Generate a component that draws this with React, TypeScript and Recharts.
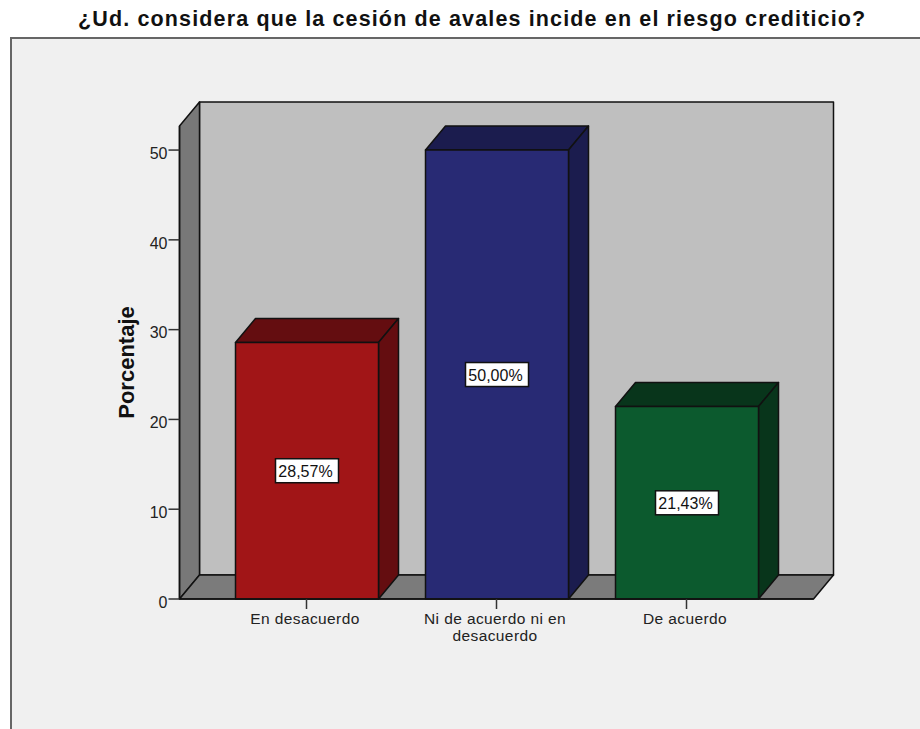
import { BarChart, Bar, XAxis, YAxis, LabelList, ReferenceArea, Text } from 'recharts';

const categories = ['En desacuerdo', 'Ni de acuerdo ni en desacuerdo', 'De acuerdo'];
const percentages = [28.57, 50, 21.43];
const yTicks = [0, 10, 20, 30, 40, 50];
const frontColors = ['#a11517', '#282a74', '#0c5a2e'];
const darkColors = ['#640d10', '#1b1c4e', '#08351b'];

const data = categories.map((name, i) => ({ name, value: percentages[i] }));

const FONT = '"Liberation Sans", Arial, sans-serif';
const EDGE = '#111';
// Oblique offset of the fake 3D extrusion
const DEPTH_X = 20;
const DEPTH_Y = 24;
// Gap between the plot edges and the first/last category band
const BAND_PAD = 32;

const fmtPct = (v: number) => `${v.toFixed(2).replace('.', ',')}%`;

function Backdrop({ x: bandX, y, width: bandWidth, height }: any) {
  const x = bandX - BAND_PAD;
  const width = bandWidth + BAND_PAD * 2;
  const bottom = y + height;
  const right = x + width;
  return (
    <g stroke={EDGE} strokeWidth={1.5} strokeLinejoin="round">
      <rect x={x + DEPTH_X} y={y - DEPTH_Y} width={width} height={height} fill="#bfbfbf" />
      <polygon
        points={`${x},${y} ${x + DEPTH_X},${y - DEPTH_Y} ${x + DEPTH_X},${bottom - DEPTH_Y} ${x},${bottom}`}
        fill="#787878"
      />
      <polygon
        points={`${x},${bottom} ${x + DEPTH_X},${bottom - DEPTH_Y} ${right + DEPTH_X},${bottom - DEPTH_Y} ${right},${bottom}`}
        fill="#7b7b7b"
      />
    </g>
  );
}

function Bar3D({ x, y, width, height, index }: any) {
  const right = x + width;
  const bottom = y + height;
  const dark = darkColors[index];
  return (
    <g stroke={EDGE} strokeWidth={1.5} strokeLinejoin="round">
      <polygon
        points={`${x},${y} ${x + DEPTH_X},${y - DEPTH_Y} ${right + DEPTH_X},${y - DEPTH_Y} ${right},${y}`}
        fill={dark}
      />
      <polygon
        points={`${right},${y} ${right + DEPTH_X},${y - DEPTH_Y} ${right + DEPTH_X},${bottom - DEPTH_Y} ${right},${bottom}`}
        fill={dark}
      />
      <rect x={x} y={y} width={width} height={height} fill={frontColors[index]} />
    </g>
  );
}

function ValueBox({ x, y, width, height, value }: any) {
  const cx = x + width / 2;
  const cy = y + height / 2;
  return (
    <g>
      <rect x={cx - 31.5} y={cy - 12} width={63} height={24} fill="#fff" stroke={EDGE} strokeWidth={1.5} />
      <text x={cx - 1.5} y={cy + 6} textAnchor="middle" fontFamily={FONT} fontSize={16} fill="#111">
        {fmtPct(value)}
      </text>
    </g>
  );
}

function CategoryTick({ x, y, payload }: any) {
  return (
    <Text
      x={x - 1.5}
      y={y}
      dy={2}
      width={170}
      textAnchor="middle"
      verticalAnchor="start"
      lineHeight={16.5}
      fontFamily={FONT}
      fontSize={15.5}
      letterSpacing={0.4}
      fill="#222"
    >
      {payload.value}
    </Text>
  );
}

export default function App() {
  return (
    <div style={{ position: 'absolute', left: 0, top: 0, width: 920, height: 729, overflow: 'hidden', background: '#fff' }}>
      <div
        style={{
          position: 'absolute',
          left: 78,
          top: 7,
          fontFamily: FONT,
          fontWeight: 700,
          fontSize: 21.5,
          letterSpacing: 1.14,
          color: '#111',
          whiteSpace: 'nowrap',
        }}
      >
        ¿Ud. considera que la cesión de avales incide en el riesgo crediticio?
      </div>
      <div
        style={{
          position: 'absolute',
          left: 10,
          top: 37,
          width: 910,
          height: 692,
          boxSizing: 'border-box',
          background: '#f0f0f0',
          borderTop: '2px solid #666',
          borderLeft: '2px solid #666',
        }}
      />
      <div style={{ position: 'absolute', left: 0, top: 0 }}>
        <BarChart
          width={920}
          height={729}
          data={data}
          barSize={143}
          margin={{ top: 126, right: 106.5, bottom: 70, left: 99.5 }}
        >
          <ReferenceArea ifOverflow="visible" shape={<Backdrop />} />
          <XAxis
            dataKey="name"
            height={60}
            interval={0}
            padding={{ left: BAND_PAD, right: BAND_PAD }}
            axisLine={{ stroke: EDGE, strokeWidth: 1.5 }}
            tickLine={{ stroke: '#333', strokeWidth: 1.5 }}
            tickSize={10}
            tickMargin={2}
            tick={<CategoryTick />}
          />
          <YAxis
            width={80}
            domain={[0, 52.68]}
            ticks={yTicks}
            interval={0}
            axisLine={{ stroke: EDGE, strokeWidth: 1.5 }}
            tickLine={{ stroke: '#333', strokeWidth: 1.5 }}
            tickSize={11}
            tickMargin={1}
            tick={{ fontFamily: FONT, fontSize: 16, fill: '#222', dy: 3 }}
            label={{
              value: 'Porcentaje',
              angle: -90,
              position: 'insideLeft',
              offset: 27,
              textAnchor: 'middle',
              fontFamily: FONT,
              fontWeight: 700,
              fontSize: 22,
              fill: '#111',
            }}
          />
          <Bar dataKey="value" isAnimationActive={false} shape={<Bar3D />}>
            <LabelList dataKey="value" content={<ValueBox />} />
          </Bar>
        </BarChart>
      </div>
    </div>
  );
}
